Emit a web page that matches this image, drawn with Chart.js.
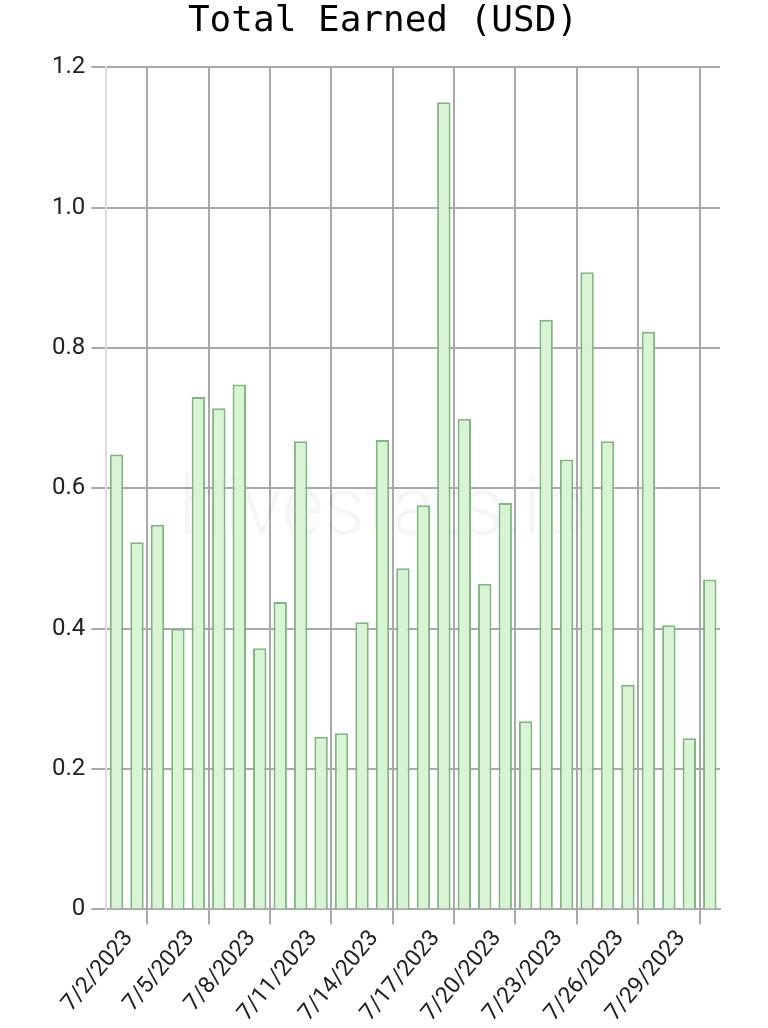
<!DOCTYPE html>
<html>
<head>
<meta charset="utf-8">
<script src="https://cdn.jsdelivr.net/npm/chart.js@4.4.0/dist/chart.umd.min.js"></script>
<style>
html, body { margin: 0; padding: 0; background: #fff; }
#wrap { width: 768px; height: 1028px; position: relative; }
</style>
</head>
<body>
<div id="wrap"><canvas id="chart1"></canvas></div>
<script>
// daily values, July 2023
var dates = ['7/1/2023', '7/2/2023', '7/3/2023', '7/4/2023', '7/5/2023', '7/6/2023', '7/7/2023', '7/8/2023',
    '7/9/2023', '7/10/2023', '7/11/2023', '7/12/2023', '7/13/2023', '7/14/2023', '7/15/2023', '7/16/2023',
    '7/17/2023', '7/18/2023', '7/19/2023', '7/20/2023', '7/21/2023', '7/22/2023', '7/23/2023', '7/24/2023',
    '7/25/2023', '7/26/2023', '7/27/2023', '7/28/2023', '7/29/2023', '7/30/2023'];
var earned = [0.648, 0.523, 0.548, 0.400, 0.730, 0.714, 0.748, 0.372, 0.438, 0.667,
    0.246, 0.251, 0.409, 0.669, 0.486, 0.576, 1.150, 0.699, 0.464, 0.579,
    0.268, 0.840, 0.641, 0.908, 0.667, 0.320, 0.823, 0.405, 0.244, 0.470];
var earnedSmall = [0, 0, 0, 0, 0, 0, 0, 0, 0.004, 0, 0.004, 0.001, 0, 0, 0.001,
    0, 0, 0, 0, 0, 0.001, 0, 0, 0, 0.002, 0.005, 0.002, 0.004, 0.002, 0.002];
var yTicks = [0, 0.2, 0.4, 0.6, 0.8, 1.0, 1.2];

var gridGray = '#a9a9a9';

// faint site name behind the bars
var watermark = {
    id: 'watermark',
    beforeDatasetsDraw: function (chart) {
        var a = chart.chartArea;
        var c = chart.ctx;
        c.save();
        c.font = '300 82px Roboto';
        c.fillStyle = 'rgba(0,0,0,0.04)';
        c.textAlign = 'center';
        c.textBaseline = 'middle';
        c.fillText('hivestats.io', (a.left + a.right) / 2 - 30, (a.top + a.bottom) / 2 + 25);
        c.restore();
    }
};

var ctx1 = document.getElementById('chart1').getContext('2d');
var chart1 = new Chart(ctx1, {
    type: 'bar',
    data: {
        labels: dates,
        datasets: [{
            label: 'Total Earned',
            data: earned,
            backgroundColor: '#d8f4d4',
            borderColor: '#7fb77e',
            borderWidth: 2,
            grouped: false,
            barPercentage: 0.82
        }, {
            label: 'Other',
            data: earnedSmall,
            backgroundColor: '#d3e8f7',
            borderColor: '#93bfe0',
            borderWidth: 1,
            grouped: false,
            barPercentage: 0.82
        }]
    },
    options: {
        responsive: true,
        maintainAspectRatio: false,
        animation: false,
        layout: { padding: { left: 46, right: 48, top: 0, bottom: 0 } },
        plugins: {
            legend: { display: false },
            tooltip: { enabled: false },
            title: {
                display: true,
                text: 'Total Earned (USD)',
                color: '#000',
                font: { family: 'DejaVu Sans Mono', size: 36, weight: 'normal' },
                padding: { top: 0, bottom: 24 }
            }
        },
        scales: {
            x: {
                grid: {
                    offset: true,
                    tickLength: 15,
                    lineWidth: 2,
                    color: function (c) { return c.index % 3 === 2 ? gridGray : 'rgba(0,0,0,0)'; }
                },
                border: { color: gridGray, width: 2 },
                ticks: {
                    autoSkip: false,
                    minRotation: 50,
                    maxRotation: 50,
                    padding: 1,
                    labelOffset: -8,
                    color: '#222',
                    font: { family: 'Roboto', size: 23 },
                    callback: function (v, i) { return i % 3 === 1 ? dates[i] : ''; }
                }
            },
            y: {
                min: yTicks[0],
                max: yTicks[yTicks.length - 1],
                grid: { color: gridGray, lineWidth: 2, tickLength: 15 },
                border: { color: '#dcdcdc', width: 2 },
                ticks: {
                    stepSize: yTicks[1] - yTicks[0],
                    padding: 6,
                    color: '#222',
                    font: { family: 'Roboto', size: 24 }
                }
            }
        }
    },
    plugins: [watermark]
});
</script>
</body>
</html>
